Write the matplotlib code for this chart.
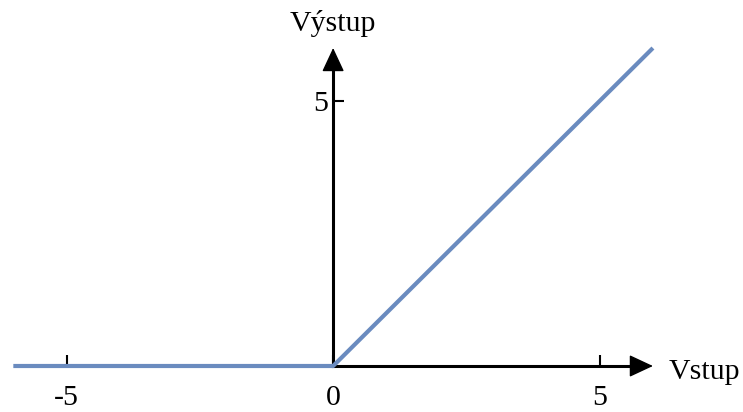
import numpy as np
import matplotlib.pyplot as plt

plt.rcParams['font.family'] = ['Liberation Serif', 'DejaVu Serif']

# ReLU curve samples
x_vals = [-6, 0, 6]
y_vals = [0, 0, 6]
x_ticks = [-5, 0, 5]
x_tick_labels = ['-5', '0', '5']
y_ticks = [5]
y_tick_labels = ['5']
x_label = 'Vstup'
y_label = 'Výstup'

fig = plt.figure(figsize=(7.43, 4.12), dpi=100)
ax = fig.add_axes([0, 0, 1, 1])
ax.set_xlim(-6.25, 7.69)
ax.set_ylim(-0.868, 6.906)

# axes through the origin
for side in ['top', 'right']:
    ax.spines[side].set_visible(False)
ax.spines['bottom'].set_position(('data', 0))
ax.spines['left'].set_position(('data', 0))
ax.spines['bottom'].set_bounds(0, 5.7)
ax.spines['left'].set_bounds(0, 5.7)
for side in ['bottom', 'left']:
    ax.spines[side].set_linewidth(2.2)

ax.set_xticks(x_ticks, x_tick_labels)
ax.set_yticks(y_ticks, y_tick_labels)
ax.tick_params(axis='both', direction='in', length=8, width=1.5, labelsize=21.5)
ax.tick_params(axis='x', pad=14)
ax.tick_params(axis='y', pad=4)

arrow = dict(arrowstyle='-|>,head_length=1.5,head_width=0.7', color='black', lw=1,
             shrinkA=0, shrinkB=0)
ax.annotate('', xy=(6.0, 0), xytext=(5.5, 0), arrowprops=arrow)
ax.annotate('', xy=(0, 6.0), xytext=(0, 5.5), arrowprops=arrow)

ax.plot(x_vals, y_vals, color='#6a8bbf', lw=3, solid_capstyle='butt', zorder=5)

ax.text(6.3, -0.25, x_label, fontsize=21.5, ha='left', va='baseline')
ax.text(0, 6.33, y_label, fontsize=21.5, ha='center', va='baseline')

fig.savefig('out.png', dpi=100)
